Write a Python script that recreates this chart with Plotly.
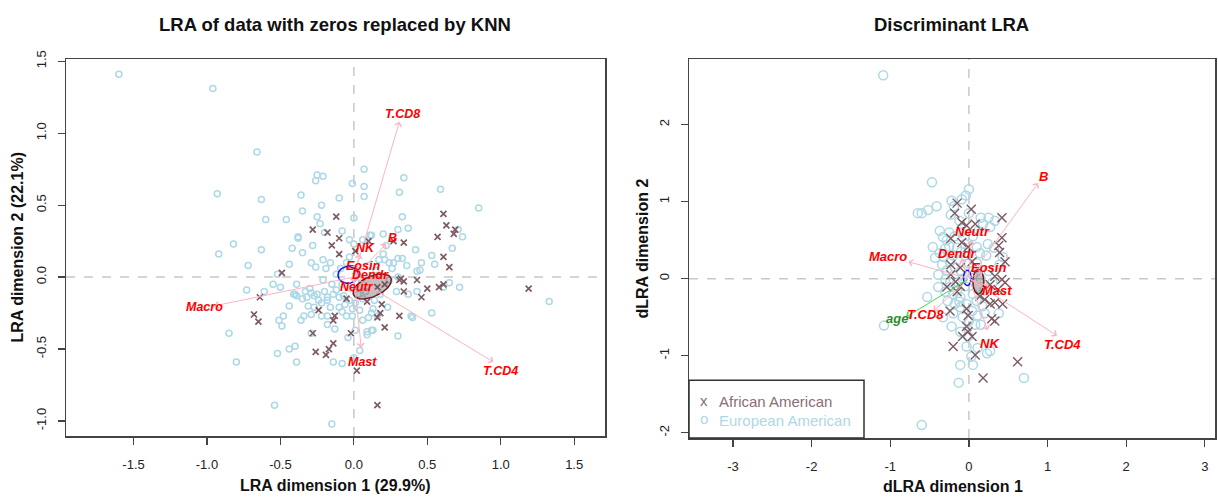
import numpy as np
import plotly.graph_objects as go

W, H = 1218, 497

# ---------------- data: left panel (LRA) ----------------
ea_left = [(-1.60,1.41),(-0.96,1.31),(-0.66,0.87),(-0.93,0.58),(-0.63,0.54),(-0.60,0.40),(-0.46,0.40),(-0.36,0.57),(-0.35,0.46),(-0.25,0.71),(-0.21,0.70),(-0.26,0.67),(-0.82,0.23),(-0.92,0.16),(-0.63,0.19),(-0.38,0.27),(-0.42,0.20),(-0.35,0.17),(-0.28,0.22),(-0.72,0.08),(-0.44,0.09),(-0.29,0.10),(-0.26,0.07),(-0.19,0.06),(-0.21,0.12),
 (0.07,0.75),(-0.01,0.65),(0.07,0.63),(0.07,0.56),(-0.10,0.55),(-0.22,0.50),(-0.25,0.42),(-0.23,0.37),(0.0,0.41),(-0.08,0.32),(-0.20,0.31),(-0.38,0.28),(0.11,0.29),(0.06,0.26),(-0.03,0.26),(0.0,0.23),(-0.03,0.14),(-0.52,0.02),(-0.21,-0.02),(-0.73,-0.09),(-0.61,-0.10),(-0.55,-0.05),(-0.50,-0.07),(-0.39,-0.05),
 (-0.85,-0.39),(-0.80,-0.59),(-0.54,-0.89),(-0.15,-1.02),(-0.52,-0.53),(-0.44,-0.50),(-0.40,-0.48),(-0.39,-0.59),(-0.14,-0.59),(-0.08,-0.60),(-0.29,-0.39),(-0.49,-0.34),(-0.51,-0.30),(-0.48,-0.27),(-0.44,-0.20),(-0.36,-0.30),(-0.34,-0.27),(-0.29,-0.26),(-0.31,-0.20),(-0.27,-0.21),(-0.22,-0.27),(-0.18,-0.33),(-0.18,-0.27),(-0.10,-0.21),(-0.05,-0.27),(-0.04,-0.42),(0.01,-0.37),(0.04,-0.51),(0.0,-0.56),(0.09,-0.40),(0.09,-0.38),(0.12,-0.37),(0.06,-0.30),
 (0.34,0.69),(0.31,0.59),(0.59,0.61),(0.85,0.48),(0.33,0.42),(0.30,0.33),(0.37,0.34),(0.22,0.22),(0.42,0.19),(0.71,0.33),(0.74,0.28),(0.67,0.20),(0.53,0.15),(0.55,0.09),(0.46,0.10),(0.20,0.30),(0.12,0.29),(0.17,0.12),(0.21,0.12),(0.24,0.10),(0.27,0.10),(0.30,0.13),(0.33,0.13),(0.45,0.05),(0.43,0.04),(0.30,0.0),(0.61,-0.07),(0.65,-0.04),(0.72,-0.07),(0.29,-0.10),(0.37,-0.12),(0.43,-0.10),(1.33,-0.17),(0.23,-0.21),(0.39,-0.27),(0.40,-0.28),(0.53,-0.25),(0.13,-0.37),(0.30,-0.41),
 (-0.40,-0.12),(-0.39,-0.13),(-0.32,-0.14),(-0.29,-0.11),(-0.27,-0.13),(-0.20,-0.10),(-0.18,-0.14),(-0.18,-0.16),(-0.14,-0.12),(-0.10,-0.14),(-0.07,-0.13),(-0.03,-0.16),(-0.01,-0.22),(0.01,-0.18),(0.04,-0.23),(-0.01,-0.27),(0.13,-0.22),(0.16,-0.27),(0.12,-0.25),(-0.41,-0.12),(-0.33,-0.10),(-0.25,-0.12),
 (-0.12,0.02),(-0.08,-0.05),(0.02,0.05),(0.05,-0.02),(-0.15,-0.05),(0.10,0.08),(0.15,0.05),(-0.05,0.10),(0.08,-0.10),(0.18,-0.12),(-0.02,-0.08),
 (-0.30,-0.08),(-0.24,-0.16),(-0.12,-0.09),(-0.06,-0.19),(0.03,-0.12),(0.14,-0.16),(0.24,-0.02),(-0.16,0.10),(-0.09,0.06),(0.20,0.16),
 (-0.35,-0.15),(-0.22,-0.18),(-0.16,-0.21),(-0.08,-0.24),(0.06,-0.15),(0.10,-0.28),(-0.13,-0.36),(0.26,0.06),(0.36,0.08)]
aa_left = [(-0.28,0.33),(-0.12,0.42),(-0.18,0.31),(-0.10,0.27),(-0.15,0.22),(-0.10,0.16),(0.01,0.18),(0.10,0.25),(-0.49,0.03),(-0.64,-0.14),(-0.68,-0.26),(-0.65,-0.31),(-0.26,-0.52),(-0.19,-0.54),(-0.17,-0.50),(-0.14,-0.46),(-0.28,-0.39),(-0.24,-0.23),(-0.14,-0.30),(-0.13,-0.27),(-0.02,-0.39),(0.02,-0.65),(0.16,-0.89),(0.27,0.25),(0.34,0.24),(0.61,0.44),(0.63,0.36),(0.57,0.28),(0.68,0.30),(0.69,0.33),(0.61,0.14),(0.65,0.07),(0.43,-0.02),(0.31,-0.02),(0.34,-0.03),(0.50,-0.08),(0.58,-0.07),(0.46,-0.14),(0.34,-0.10),(1.19,-0.08),(0.19,-0.19),(0.18,-0.25),(0.16,-0.28),(0.31,-0.27),(0.21,-0.35),(0.09,-0.17),(-0.05,-0.15),(0.16,-0.07),(0.21,-0.05),(0.32,-0.01),(0.61,-0.05)]

vars_left = ["T.CD8", "B", "NK", "Eosin", "Dendr", "Neutr", "Macro", "Mast", "T.CD4"]
tip_left_x = [0.31, 0.22, 0.04, 0.02, 0.07, 0.00, -0.95, 0.05, 0.95]
tip_left_y = [1.08, 0.23, 0.16, 0.04, 0.00, -0.04, -0.20, -0.49, -0.59]
lab_left_x = [0.33, 0.26, 0.08, 0.06, 0.11, 0.02, -1.02, 0.06, 1.00]
lab_left_y = [1.13, 0.27, 0.20, 0.08, 0.012, -0.07, -0.205, -0.59, -0.65]

# ---------------- data: right panel (discriminant LRA) ----------------
ea_right = [(-1.09,2.64),(-0.65,0.85),(-0.47,1.25),(0.0,1.16),(-0.04,1.08),(-0.09,1.03),(-0.22,1.01),(-0.19,0.94),(-0.60,0.85),(-0.52,0.89),(-0.41,0.94),(-0.23,0.83),(0.15,0.79),(0.25,0.79),(0.33,0.75),(0.27,0.67),(0.18,0.71),(-0.37,0.62),(-0.33,0.54),(-0.28,0.50),(-0.46,0.41),(-0.30,0.39),(-0.37,0.33),(-0.43,0.27),(0.10,0.41),(0.24,0.45),(0.14,0.33),(0.43,0.28),(0.39,0.18),(-0.34,0.18),(-0.28,0.11),(-0.24,0.22),(-0.18,0.15),(-0.39,0.05),(-0.30,-0.01),(-0.39,-0.11),(-0.30,-0.17),(-0.24,-0.05),(-0.15,-0.05),(-0.20,-0.20),(-0.11,-0.24),(-0.27,-0.29),(-0.18,-0.33),(-0.11,-0.37),(-0.03,-0.33),(0.10,-0.29),(0.17,-0.36),(0.04,-0.42),(0.11,-0.48),(-1.08,-0.61),(-0.22,-0.62),(-0.11,-0.69),(-0.01,-0.75),(-0.03,-0.88),(0.11,-0.90),(0.23,-0.97),(0.27,-0.94),(-0.11,-1.12),(0.05,-1.12),(-0.13,-1.35),(0.70,-1.29),(0.03,-1.01),(-0.60,-1.90),(-0.53,-0.24),(-0.33,-0.50),
 (-0.10,0.60),(-0.05,0.45),(0.05,0.55),(-0.15,0.40),(-0.20,0.30),(-0.05,0.30),(0.0,0.20),(0.10,0.20),(-0.10,0.10),(0.05,0.05),(-0.05,-0.10),(0.05,-0.20),(0.20,-0.15),(-0.15,-0.15),(0.15,0.0),(0.30,-0.05),(-0.08,0.0),(0.22,0.30),(0.32,0.40),(-0.25,0.60),(0.0,0.85),(-0.12,0.75),(0.08,-0.60),(-0.08,-0.50),(0.15,-0.60),(0.38,-0.45),
 (-0.18,0.55),(-0.10,0.35),(0.12,0.62),(-0.32,0.28),(-0.12,-0.30),(0.0,-0.55),(0.20,-0.45),(-0.20,-0.45),(0.25,0.10),(-0.25,0.42)]
aa_right = [(-0.15,0.98),(0.03,0.90),(-0.18,0.85),(0.42,0.79),(-0.09,0.73),(-0.03,0.69),(0.08,0.71),(-0.23,0.52),(-0.09,0.47),(-0.01,0.41),(0.42,0.53),(0.38,0.43),(0.39,0.34),(0.46,0.22),(-0.23,0.18),(-0.11,0.14),(0.04,0.22),(-0.23,0.05),(-0.17,-0.04),(-0.28,-0.11),(-0.15,-0.17),(-0.11,-0.10),(0.33,0.03),(0.42,-0.01),(0.27,-0.08),(0.37,-0.14),(0.46,-0.05),(0.14,-0.23),(0.27,-0.33),(0.33,-0.31),(0.43,-0.33),(0.20,-0.27),(-0.24,-0.42),(-0.03,-0.39),(-0.01,-0.48),(0.29,-0.52),(0.33,-0.55),(-0.03,-0.62),(-0.01,-0.69),(-0.08,-0.75),(0.04,-0.75),(-0.20,-0.88),(0.08,-0.99),(0.62,-1.08),(0.18,-1.29)]

vars_right = ["B", "Macro", "Neutr", "Dendr", "Eosin", "Mast", "T.CD8", "NK", "T.CD4"]
tip_right_x = [0.88, -0.77, 0.03, -0.10, 0.18, 0.25, -0.45, 0.24, 1.12]
tip_right_y = [1.24, 0.22, 0.50, 0.25, 0.10, -0.10, -0.42, -0.67, -0.74]
lab_right_x = [0.95, -1.03, 0.04, -0.15, 0.25, 0.36, -0.55, 0.27, 1.19]
lab_right_y = [1.32, 0.29, 0.61, 0.32, 0.15, -0.15, -0.47, -0.84, -0.85]
age_tip = [-0.80, -0.50]
age_lab = [-0.91, -0.52]

# group ellipses: centre x, centre y, semi-axis a, semi-axis b, angle (deg)
ell_left_ea = [-0.04, 0.015, 0.068, 0.058, 0]
ell_left_aa = [0.125, -0.065, 0.14, 0.07, 25]
ell_right_ea = [-0.02, 0.01, 0.05, 0.10, 0]
ell_right_aa = [0.12, -0.04, 0.07, 0.16, 0]

legend_labels = ["African American", "European American"]

# ---------------- styling ----------------
C_EA = "#ADD8E6"
C_AA = "#7E5A62"
C_ARROW = "#FFB3BE"
C_LAB = "#FF0000"
C_AXIS = "#444444"


def px2fx(p):
    return p / W


def py2fy(p):
    return 1 - p / H


def ellipse(params, n=120):
    cx, cy, a, b, ang = params
    t = np.linspace(0, 2 * np.pi, n)
    th = np.deg2rad(ang)
    x = cx + a * np.cos(t) * np.cos(th) - b * np.sin(t) * np.sin(th)
    y = cy + a * np.cos(t) * np.sin(th) + b * np.sin(t) * np.cos(th)
    return x, y


fig = go.Figure()

fig.add_trace(go.Scatter(x=[p[0] for p in ea_left], y=[p[1] for p in ea_left], mode="markers",
                         marker=dict(symbol="circle-open", size=6, line=dict(width=1.5), color=C_EA),
                         xaxis="x", yaxis="y", showlegend=False))
fig.add_trace(go.Scatter(x=[p[0] for p in aa_left], y=[p[1] for p in aa_left], mode="markers",
                         marker=dict(symbol="x-thin-open", size=6, line=dict(width=1.7, color=C_AA), color=C_AA),
                         xaxis="x", yaxis="y", showlegend=False))
fig.add_trace(go.Scatter(x=[p[0] for p in ea_right], y=[p[1] for p in ea_right], mode="markers",
                         marker=dict(symbol="circle-open", size=9, line=dict(width=1.5), color=C_EA),
                         xaxis="x2", yaxis="y2", showlegend=False))
fig.add_trace(go.Scatter(x=[p[0] for p in aa_right], y=[p[1] for p in aa_right], mode="markers",
                         marker=dict(symbol="x-thin-open", size=9, line=dict(width=1.4, color=C_AA), color=C_AA),
                         xaxis="x2", yaxis="y2", showlegend=False))

for params, xa, ya, filled in [(ell_left_ea, "x", "y", False), (ell_left_aa, "x", "y", True),
                                (ell_right_ea, "x2", "y2", False), (ell_right_aa, "x2", "y2", True)]:
    ex, ey = ellipse(params)
    if filled:
        fig.add_trace(go.Scatter(x=ex, y=ey, mode="lines", fill="toself",
                                 fillcolor="rgba(95,70,72,0.35)", line=dict(color="#6B1F25", width=1.5),
                                 xaxis=xa, yaxis=ya, showlegend=False, hoverinfo="skip"))
    else:
        fig.add_trace(go.Scatter(x=ex, y=ey, mode="lines", line=dict(color="#1010EE", width=1.5),
                                 xaxis=xa, yaxis=ya, showlegend=False, hoverinfo="skip"))

annotations = []


def add_arrow(xt, yt, xref, yref, color):
    annotations.append(dict(x=xt, y=yt, ax=0, ay=0, xref=xref, yref=yref, axref=xref, ayref=yref,
                            text="", showarrow=True, arrowhead=4, arrowsize=1.3, arrowwidth=1,
                            arrowcolor=color, standoff=0, startstandoff=0))


def add_label(txt, xl, yl, xref, yref, color, size=13):
    annotations.append(dict(x=xl, y=yl, xref=xref, yref=yref, text="<b><i>%s</i></b>" % txt,
                            showarrow=False, font=dict(family="Arial", size=size, color=color),
                            xanchor="center", yanchor="middle"))


for v, tx, ty in zip(vars_left, tip_left_x, tip_left_y):
    add_arrow(tx, ty, "x", "y", C_ARROW)
for v, tx, ty in zip(vars_right, tip_right_x, tip_right_y):
    add_arrow(tx, ty, "x2", "y2", C_ARROW)
add_arrow(age_tip[0], age_tip[1], "x2", "y2", "#44DD44")

for v, lx, ly in zip(vars_left, lab_left_x, lab_left_y):
    add_label(v, lx, ly, "x", "y", C_LAB, 12.5)
for v, lx, ly in zip(vars_right, lab_right_x, lab_right_y):
    add_label(v, lx, ly, "x2", "y2", C_LAB)
add_label("age", age_lab[0], age_lab[1], "x2", "y2", "#2E8B2E")

tfont = dict(family="Arial", size=18.5, color="#111111")
lfont = dict(family="Arial", size=16, color="#111111")
annotations += [
    dict(x=px2fx(335), y=py2fy(16), xref="paper", yref="paper", text="<b>LRA of data with zeros replaced by KNN</b>",
         showarrow=False, font=tfont, xanchor="center", yanchor="middle"),
    dict(x=px2fx(951), y=py2fy(16), xref="paper", yref="paper", text="<b>Discriminant LRA</b>",
         showarrow=False, font=tfont, xanchor="center", yanchor="middle"),
    dict(x=px2fx(335), y=py2fy(485), xref="paper", yref="paper", text="<b>LRA dimension 1 (29.9%)</b>",
         showarrow=False, font=lfont, xanchor="center", yanchor="middle"),
    dict(x=px2fx(18), y=py2fy(243), xref="paper", yref="paper", text="<b>LRA dimension 2 (22.1%)</b>",
         showarrow=False, font=lfont, xanchor="center", yanchor="middle", textangle=-90),
    dict(x=px2fx(953), y=py2fy(486), xref="paper", yref="paper", text="<b>dLRA dimension 1</b>",
         showarrow=False, font=lfont, xanchor="center", yanchor="middle"),
    dict(x=px2fx(643), y=py2fy(244), xref="paper", yref="paper", text="<b>dLRA dimension 2</b>",
         showarrow=False, font=lfont, xanchor="center", yanchor="middle", textangle=-90),
]

legfont_aa = dict(family="Arial", size=15, color="#8C6E74")
legfont_ea = dict(family="Arial", size=15, color=C_EA)
annotations += [
    dict(x=px2fx(704), y=py2fy(399), xref="paper", yref="paper", text="x", showarrow=False,
         font=legfont_aa, xanchor="center", yanchor="middle"),
    dict(x=px2fx(717), y=py2fy(400), xref="paper", yref="paper", text=legend_labels[0], showarrow=False,
         font=legfont_aa, xanchor="left", yanchor="middle"),
    dict(x=px2fx(704), y=py2fy(417), xref="paper", yref="paper", text="o", showarrow=False,
         font=legfont_ea, xanchor="center", yanchor="middle"),
    dict(x=px2fx(717), y=py2fy(419), xref="paper", yref="paper", text=legend_labels[1], showarrow=False,
         font=legfont_ea, xanchor="left", yanchor="middle"),
]

shapes = [
    dict(type="line", xref="x", yref="y domain", x0=0, x1=0, y0=0, y1=1, layer="below",
         line=dict(color="#C8C8C8", width=1.5, dash="dash")),
    dict(type="line", xref="x domain", yref="y", x0=0, x1=1, y0=0, y1=0, layer="below",
         line=dict(color="#C8C8C8", width=1.5, dash="dash")),
    dict(type="line", xref="x2", yref="y2 domain", x0=0, x1=0, y0=0, y1=1, layer="below",
         line=dict(color="#C8C8C8", width=1.5, dash="dash")),
    dict(type="line", xref="x2 domain", yref="y2", x0=0, x1=1, y0=0, y1=0, layer="below",
         line=dict(color="#C8C8C8", width=1.5, dash="dash")),
    dict(type="rect", xref="paper", yref="paper", x0=px2fx(689), x1=px2fx(864), y0=py2fy(437), y1=py2fy(378),
         fillcolor="white", line=dict(color="#333333", width=1.5), layer="above"),
]

axis_common = dict(showgrid=False, zeroline=False, showline=True, mirror=True, linecolor=C_AXIS, linewidth=1.5,
                   ticks="outside", ticklen=7, tickwidth=1.2, tickcolor=C_AXIS,
                   tickfont=dict(family="Arial", size=13, color="#222222"))

xt_left = [-1.5, -1.0, -0.5, 0.0, 0.5, 1.0, 1.5]
yt_left = [-1.0, -0.5, 0.0, 0.5, 1.0, 1.5]
xt_right = [-3, -2, -1, 0, 1, 2, 3]
yt_right = [-2, -1, 0, 1, 2]

fig.update_layout(
    width=W, height=H, autosize=False,
    margin=dict(l=0, r=0, t=0, b=0),
    paper_bgcolor="white", plot_bgcolor="white",
    showlegend=False,
    xaxis=dict(domain=[px2fx(66), px2fx(605)], range=[-1.96, 1.71], anchor="y",
               tickvals=xt_left, ticktext=["%.1f" % v for v in xt_left], ticklabelstandoff=9, **axis_common),
    yaxis=dict(domain=[py2fy(435), py2fy(51)], range=[-1.105, 1.515], anchor="x",
               tickvals=yt_left, ticktext=["%.1f" % v for v in yt_left], tickangle=-90, ticklabelstandoff=6,
               **axis_common),
    xaxis2=dict(domain=[px2fx(689), px2fx(1215)], range=[-3.56, 3.13], anchor="y2",
                tickvals=xt_right, ticktext=[str(v) for v in xt_right], ticklabelstandoff=9, **axis_common),
    yaxis2=dict(domain=[py2fy(437), py2fy(51)], range=[-2.07, 2.85], anchor="x2",
                tickvals=yt_right, ticktext=[str(v) for v in yt_right], tickangle=-90, ticklabelstandoff=6,
                **axis_common),
    annotations=annotations,
    shapes=shapes,
)

fig.write_html("out.html", config={"displayModeBar": False, "staticPlot": True},
               post_script="document.body.style.margin='0px';document.body.style.padding='0px';"
                           "document.body.style.overflow='hidden';")
